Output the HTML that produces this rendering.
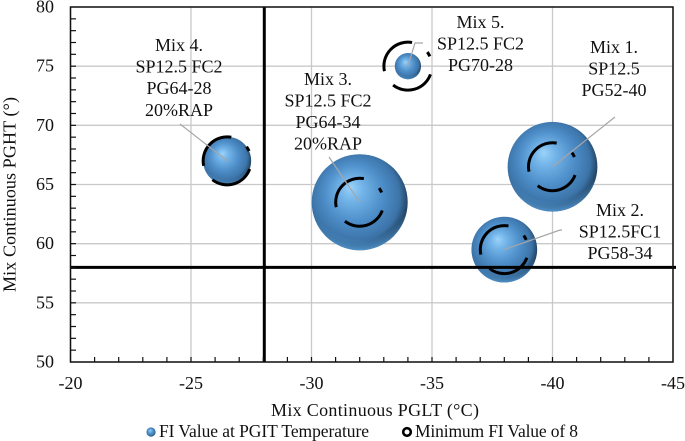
<!DOCTYPE html>
<html lang="en">
<head>
<meta charset="utf-8">
<title>Mix Continuous PGHT vs PGLT</title>
<style>
html,body{margin:0;padding:0;background:#fff;width:685px;height:441px;overflow:hidden}
svg{display:block}
text{font-family:"Liberation Serif",serif;font-size:18px;fill:#111}
.note{text-anchor:middle}
.legend-text{font-size:17.5px}
</style>
</head>
<body>
<svg id="chart" xmlns="http://www.w3.org/2000/svg" width="685" height="441" viewBox="0 0 685 441">
<defs>
<radialGradient id="sphere" cx="47%" cy="46%" r="56%" fx="40%" fy="34%">
<stop offset="0" stop-color="#9bd3fa"/>
<stop offset="0.22" stop-color="#72b3e8"/>
<stop offset="0.55" stop-color="#4d8dc8"/>
<stop offset="0.82" stop-color="#3c74a8"/>
<stop offset="1" stop-color="#1a3650"/>
</radialGradient>
<radialGradient id="rim" cx="50%" cy="34%" r="68%">
<stop offset="0.8" stop-color="#5aa4e2" stop-opacity="0"/>
<stop offset="1" stop-color="#5aa4e2" stop-opacity="0.95"/>
</radialGradient>
</defs>
<g id="grid"></g>
<g id="bubbles"></g>
<g id="rings"></g>
<g id="thresholds"></g>
<g id="frame"></g>
<g id="leaders"></g>
<g id="ticks"></g>

<text class="note" x="179" y="51"><tspan x="179">Mix 4.</tspan><tspan x="179" y="72.5">SP12.5 FC2</tspan><tspan x="179" y="94">PG64-28</tspan><tspan x="179" y="116">20%RAP</tspan></text>
<text class="note" x="328" y="85"><tspan x="328">Mix 3.</tspan><tspan x="328" y="106.5">SP12.5 FC2</tspan><tspan x="328" y="128">PG64-34</tspan><tspan x="328" y="149.5">20%RAP</tspan></text>
<text class="note" x="480.5" y="28"><tspan x="480.5">Mix 5.</tspan><tspan x="480.5" y="49.5">SP12.5 FC2</tspan><tspan x="480.5" y="71">PG70-28</tspan></text>
<text class="note" x="614" y="53"><tspan x="614">Mix 1.</tspan><tspan x="614" y="74.5">SP12.5</tspan><tspan x="614" y="96">PG52-40</tspan></text>
<text class="note" x="620" y="216"><tspan x="620">Mix 2.</tspan><tspan x="620" y="237.5">SP12.5FC1</tspan><tspan x="620" y="259">PG58-34</tspan></text>

<text x="271" y="416" textLength="208">Mix Continuous PGLT (°C)</text>
<text transform="translate(15.5,292) rotate(-90)" textLength="195">Mix Continuous PGHT (°)</text>

<g>
<circle cx="151" cy="432" r="4.6" fill="url(#sphere)"/>
<text class="legend-text" x="159" y="437" textLength="210">FI Value at PGIT Temperature</text>
<circle cx="407" cy="432" r="3.8" fill="none" stroke="#000" stroke-width="2.6"/>
<text class="legend-text" x="415" y="437" textLength="163">Minimum FI Value of 8</text>
</g>
</svg>
<script>
const mixNames = ["mix-1", "mix-2", "mix-3", "mix-4", "mix-5"];
const pgltValues = [-40, -38, -32, -26.5, -34];
const pghtValues = [66.5, 59.5, 63.5, 67, 75];
const fiValues = [28, 15, 32, 8, 2.4];
const minimumFi = 8;
const pgltThreshold = -28;
const pghtThreshold = 58;
const xTickLabels = [-20, -25, -30, -35, -40, -45];
const yTickLabels = [50, 55, 60, 65, 70, 75, 80];

const NS = "http://www.w3.org/2000/svg";
const xScale = v => 70.5 + (-20 - v) * (602.5 / 25);
const yScale = v => 362 - (v - 50) * (355 / 30);
const rScale = fi => 24 * Math.sqrt(fi / 8);

function add(parent, tag, attrs) {
  const el = document.createElementNS(NS, tag);
  for (const k in attrs) el.setAttribute(k, attrs[k]);
  document.getElementById(parent).appendChild(el);
  return el;
}
function arc(cx, cy, r, a0, a1) {
  const p = a => [cx + r * Math.cos(a * Math.PI / 180), cy + r * Math.sin(a * Math.PI / 180)];
  const s = p(a0), e = p(a1);
  return "M" + s[0] + " " + s[1] + "A" + r + " " + r + " 0 0 1 " + e[0] + " " + e[1];
}

const GRID = "#c9c9c9";
xTickLabels.forEach(v => {
  const line = add("grid", "line", { x1: xScale(v), x2: xScale(v), y1: yScale(80), y2: yScale(50), stroke: GRID, "stroke-width": 1.3 });
  
  
  const t = add("ticks", "text", { x: xScale(v), y: 389, "text-anchor": "middle" });
  t.textContent = v;
  
  
});
yTickLabels.forEach(v => {
  const line = add("grid", "line", { x1: xScale(-20), x2: xScale(-45), y1: yScale(v), y2: yScale(v), stroke: GRID, "stroke-width": 1.3 });
  
  
  const t = add("ticks", "text", { x: 54, y: yScale(v) + 5.5, "text-anchor": "end" });
  t.textContent = v;
  
  
});

mixNames.forEach((name, i) => {
  const cx = xScale(pgltValues[i]), cy = yScale(pghtValues[i]), r = rScale(fiValues[i]);
  const b = add("bubbles", "circle", { cx: cx, cy: cy, r: r, fill: "url(#sphere)" });
  
  
  const s = add("bubbles", "circle", { cx: cx, cy: cy, r: r, fill: "url(#rim)" });
  
  
  const rr = rScale(minimumFi);
  const ring = add("rings", "path", {
    d: arc(cx, cy, rr, 20, 128) + arc(cx, cy, rr, 168, 280) + arc(cx, cy, rr, 324, 336),
    fill: "none", stroke: "#000", "stroke-width": 3
  });
  
  
});

const vLine = add("thresholds", "line", { x1: xScale(pgltThreshold) + 1, x2: xScale(pgltThreshold) + 1, y1: 7, y2: 362, stroke: "#000", "stroke-width": 3 });


const hLine = add("thresholds", "line", { x1: 70, x2: 676, y1: yScale(pghtThreshold), y2: yScale(pghtThreshold), stroke: "#000", "stroke-width": 3 });



const frame = add("frame", "rect", { x: xScale(-20), y: yScale(80), width: xScale(-45) - xScale(-20), height: yScale(50) - yScale(80), fill: "none", stroke: "#111", "stroke-width": 1.5 });


for (let v = -21; v > -45; v--) {
  const tick = add("frame", "line", { x1: xScale(v), x2: xScale(v), y1: 362, y2: 357, stroke: "#111", "stroke-width": 1.2 });
  
  
}
for (let v = 51; v < 80; v++) {
  const tick = add("frame", "line", { x1: 70.5, x2: 76, y1: yScale(v), y2: yScale(v), stroke: "#111", "stroke-width": 1.2 });
  
  
}

const leaderTargets = {
  "mix-1": "615,117",
  "mix-2": "560,230 562,230",
  "mix-3": "329,157",
  "mix-4": "180,124",
  "mix-5": "415,43 423,43"
};
mixNames.forEach((name, i) => {
  const pts = xScale(pgltValues[i]) + "," + yScale(pghtValues[i]) + " " + leaderTargets[name];
  const leader = add("leaders", "polyline", { points: pts, fill: "none", stroke: "#a6a6a6", "stroke-width": 1.2 });
  
  
});
</script>
</body>
</html>
